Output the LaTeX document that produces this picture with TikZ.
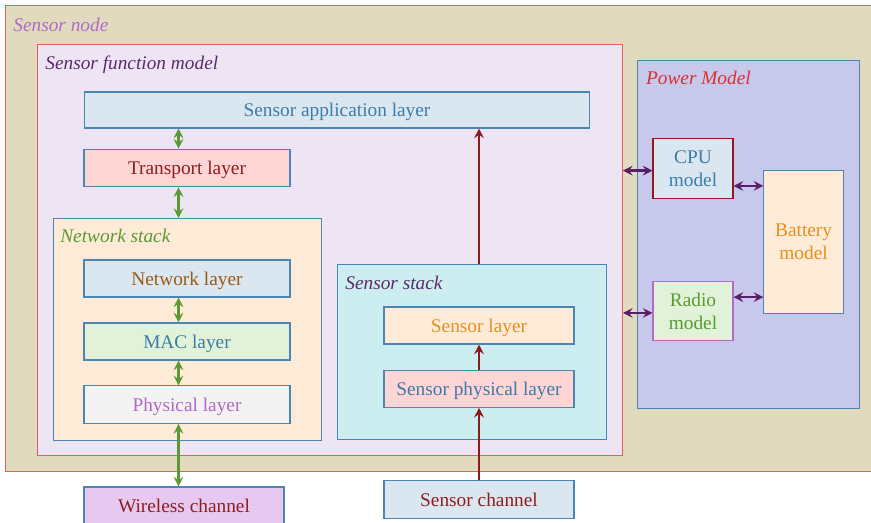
\documentclass[tikz,border=0pt]{standalone}
\usepackage{fontspec}
\setmainfont{Liberation Serif}
\usetikzlibrary{arrows.meta}

\definecolor{nodefill}{HTML}{E0DBBE}
\definecolor{nodeline}{HTML}{E0605A}
\definecolor{funcfill}{HTML}{EEE5F4}
\definecolor{edgeblue}{HTML}{4A86B4}
\definecolor{powerfill}{HTML}{C8C8EC}
\definecolor{skyfill}{HTML}{DAE7F1}
\definecolor{pinkfill}{HTML}{FDD5D5}
\definecolor{peachfill}{HTML}{FDEBD7}
\definecolor{leaffill}{HTML}{E2F2D8}
\definecolor{greyfill}{HTML}{F3F3F3}
\definecolor{cyanfill}{HTML}{CDEEF0}
\definecolor{lilacfill}{HTML}{E6C8F0}
\definecolor{txtblue}{HTML}{3C7CA8}
\definecolor{txtred}{HTML}{8E1E1E}
\definecolor{txtbrown}{HTML}{9A5A14}
\definecolor{txtorange}{HTML}{E8901E}
\definecolor{txtpurple}{HTML}{B468C8}
\definecolor{txtgreen}{HTML}{5A9A32}
\definecolor{txtplum}{HTML}{5A2A6A}
\definecolor{txtcrimson}{HTML}{D83030}
\definecolor{arrgreen}{HTML}{5A9A30}
\definecolor{arrred}{HTML}{8E1A1A}
\definecolor{arrplum}{HTML}{5A1E68}

\begin{document}
\begin{tikzpicture}[
  x=0.02cm, y=-0.02cm,
  font=\fontsize{11}{13}\selectfont,
  frame/.style={draw=#1, line width=0.6pt, inner sep=0pt, anchor=north west},
  layer/.style={draw=edgeblue, line width=0.6pt, align=center, inner sep=0pt, text depth=0pt},
  tag/.style={font=\fontsize{11}{13}\selectfont\itshape, anchor=base west, inner sep=0pt},
  tip/.tip={Stealth[length=5.5pt, width=5.5pt, inset=2pt]},
  duo/.style={tip-tip, line width=1.3pt},
  one/.style={-tip, line width=1.3pt}
]
\useasboundingbox (0,0) rectangle (871,523);

% containers
\node[frame=nodeline, fill=nodefill, minimum width=17.6cm, minimum height=9.32cm] (sensornode) at (5,5) {};
\node[tag, text=txtpurple] (nodetag) at (13,31.5) {Sensor node};
\node[frame=nodeline, fill=funcfill, minimum width=11.7cm, minimum height=8.22cm] (func) at (37,44) {};
\node[tag, text=txtplum] (functag) at (45,69.3) {Sensor function model};
\node[frame=edgeblue, fill=peachfill, minimum width=5.37cm, minimum height=4.44cm] (netstack) at (52.5,218) {};
\node[tag, text=txtgreen] (nettag) at (60,242.7) {Network stack};
\node[frame=edgeblue, fill=cyanfill, minimum width=5.38cm, minimum height=3.5cm] (sensstack) at (337,264) {};
\node[tag, text=txtplum] (senstag) at (345,289.3) {Sensor stack};
\node[frame=edgeblue, fill=powerfill, minimum width=4.44cm, minimum height=6.96cm] (power) at (637,60) {};
\node[tag, text=txtcrimson] (powertag) at (645.7,84.7) {Power Model};

% layers
\node[layer, fill=skyfill, text=txtblue, minimum width=10.12cm, minimum height=0.72cm] (app) at (337,110) {Sensor application layer};
\node[layer, fill=pinkfill, text=txtred, minimum width=4.12cm, minimum height=0.75cm] (transport) at (187,168) {Transport layer};
\node[layer, fill=skyfill, text=txtbrown, minimum width=4.12cm, minimum height=0.74cm] (network) at (187,278.5) {Network layer};
\node[layer, fill=leaffill, text=txtblue, minimum width=4.12cm, minimum height=0.74cm] (mac) at (187,341.5) {MAC layer};
\node[layer, fill=greyfill, text=txtpurple, minimum width=4.12cm, minimum height=0.75cm] (phys) at (187,404.7) {Physical layer};
\node[layer, fill=lilacfill, text=txtred, minimum width=4cm, minimum height=0.76cm] (wireless) at (184,506) {Wireless channel};
\node[layer, fill=peachfill, text=txtorange, minimum width=3.8cm, minimum height=0.74cm] (senslayer) at (479,325.5) {Sensor layer};
\node[layer, fill=pinkfill, text=txtblue, minimum width=3.8cm, minimum height=0.73cm] (sensphys) at (479,389) {Sensor physical layer};
\node[layer, fill=skyfill, text=txtred, minimum width=3.8cm, minimum height=0.75cm] (senschan) at (479,499.7) {Sensor channel};

% power parts
\node[layer, draw=arrred, fill=skyfill, text=txtblue, minimum width=1.6cm, minimum height=1.19cm] (cpu) at (693,168.7) {CPU\\model};
\node[layer, fill=peachfill, text=txtorange, minimum width=1.59cm, minimum height=2.85cm] (battery) at (803.6,241.8) {Battery\\model};
\node[layer, draw=txtpurple, fill=leaffill, text=txtgreen, minimum width=1.6cm, minimum height=1.19cm] (radio) at (693,311) {Radio\\model};

% connectors
\coordinate (netcol) at (178.5,0);
\draw[duo, arrgreen] (app.south -| netcol) -- (transport.north -| netcol);
\draw[duo, arrgreen] (transport.south -| netcol) -- (netstack.north -| netcol);
\draw[duo, arrgreen] (network.south -| netcol) -- (mac.north -| netcol);
\draw[duo, arrgreen] (mac.south -| netcol) -- (phys.north -| netcol);
\draw[duo, arrgreen] (phys.south -| netcol) -- (wireless.north -| netcol);

\draw[one, arrred] (senschan) -- (sensphys);
\draw[one, arrred] (sensphys) -- (senslayer);
\draw[one, arrred] (sensstack.north -| senslayer) -- (app.south -| senslayer);

\draw[duo, arrplum] ([yshift=-1.1pt]cpu.west -| func.east) -- ([yshift=-1.1pt]cpu.west);
\draw[duo, arrplum] ([yshift=-1.1pt]radio.west -| func.east) -- ([yshift=-1.1pt]radio.west);
\draw[duo, arrplum] ([yshift=-9.8pt]cpu.east) -- ([yshift=-9.8pt]cpu.east -| battery.west);
\draw[duo, arrplum] ([yshift=7.9pt]radio.east) -- ([yshift=7.9pt]radio.east -| battery.west);
\end{tikzpicture}
\end{document}
